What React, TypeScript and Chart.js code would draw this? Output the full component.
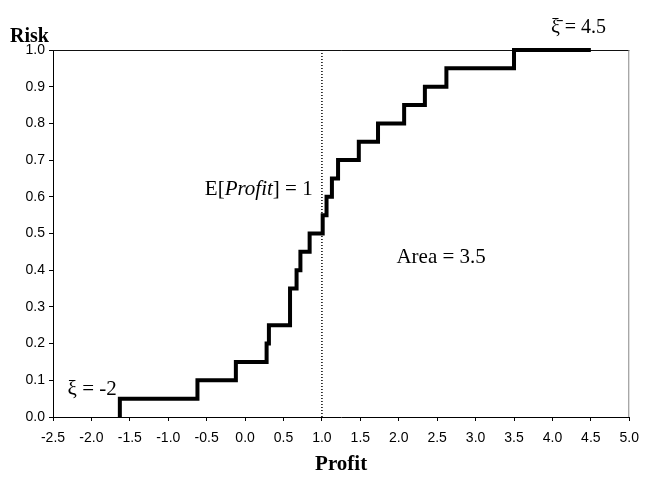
import React, { useEffect, useRef } from "react";
import { Chart, registerables } from "chart.js";

Chart.register(...registerables);

// Step function (cumulative risk curve): x = profit where a step occurs, y = risk after the step
const stepX = [-1.63, -1.63, -0.62, -0.12, 0.28, 0.31, 0.585, 0.67, 0.72, 0.84, 1.01, 1.06, 1.13, 1.21, 1.48, 1.73, 2.07, 2.34, 2.62, 3.5, 4.5];
const stepY = [0, 0.05, 0.1, 0.15, 0.2, 0.25, 0.35, 0.4, 0.45, 0.5, 0.55, 0.6, 0.65, 0.7, 0.75, 0.8, 0.85, 0.9, 0.95, 1.0, 1.0];

// Expected profit marker (vertical dotted line)
const expectedProfit = 1;
const markerY = [0, 1];

// Axis ranges / ticks
const xMin = -2.5, xMax = 5.0, xStep = 0.5;
const yMin = 0, yMax = 1.0, yStep = 0.1;

const SERIF = "'Liberation Serif', 'Times New Roman', serif";
const SANS = "'Liberation Sans', Arial, sans-serif";

const framePlugin = {
  id: "frame",
  beforeDatasetsDraw(chart: any) {
    const { ctx, chartArea: a } = chart;
    ctx.save();
    ctx.lineWidth = 1;
    ctx.strokeStyle = "#111";
    ctx.beginPath();
    ctx.moveTo(a.left, a.top + 0.5);
    ctx.lineTo(a.right, a.top + 0.5);
    ctx.stroke();
    ctx.strokeStyle = "#888";
    ctx.beginPath();
    ctx.moveTo(a.right - 0.5, a.top);
    ctx.lineTo(a.right - 0.5, a.bottom);
    ctx.stroke();
    ctx.restore();
  },
};

const textPlugin = {
  id: "texts",
  afterDraw(chart: any) {
    const { ctx, chartArea: a } = chart;
    const xs = chart.scales.x;
    const ys = chart.scales.y;
    ctx.save();
    ctx.fillStyle = "#000";
    ctx.textBaseline = "alphabetic";

    // Y axis title "Risk"
    ctx.font = `bold 20px ${SERIF}`;
    ctx.textAlign = "left";
    ctx.fillText("Risk", a.left - 43, a.top - 8);

    // E[Profit] = 1  (right-aligned)
    ctx.font = `21px ${SERIF}`;
    const p1 = "E[";
    const p3 = "] = 1";
    const w1 = ctx.measureText(p1).width;
    const w3 = ctx.measureText(p3).width;
    ctx.font = `italic 21px ${SERIF}`;
    const p2 = "Profit";
    const w2 = ctx.measureText(p2).width;
    const rx = xs.getPixelForValue(0.88);
    const by = ys.getPixelForValue(0.605);
    const sx = rx - (w1 + w2 + w3);
    ctx.font = `21px ${SERIF}`;
    ctx.fillText(p1, sx, by);
    ctx.font = `italic 21px ${SERIF}`;
    ctx.fillText(p2, sx + w1, by);
    ctx.font = `21px ${SERIF}`;
    ctx.fillText(p3, sx + w1 + w2, by);

    // Area = 3.5
    ctx.fillText("Area = 3.5", xs.getPixelForValue(1.97), ys.getPixelForValue(0.419));

    // ξ = -2
    ctx.font = `21px ${SERIF}`;
    ctx.fillText("\u03BE = -2", xs.getPixelForValue(-2.31), ys.getPixelForValue(0.06));

    // ξ̄ = 4.5
    ctx.font = `20px ${SERIF}`;
    const lx = xs.getPixelForValue(3.98);
    const ly = ys.getPixelForValue(1.045);
    ctx.fillText("\u03BE\u0304 = 4.5", lx, ly);
    ctx.restore();
  },
};

export default function App() {
  const canvasRef = useRef<HTMLCanvasElement | null>(null);

  useEffect(() => {
    if (!canvasRef.current) return;
    const stepData = stepX.map((x, i) => ({ x, y: stepY[i] }));
    const markerData = markerY.map((y) => ({ x: expectedProfit, y }));

    const chart = new Chart(canvasRef.current, {
      type: "line",
      data: {
        datasets: [
          {
            data: markerData,
            borderColor: "#000",
            borderWidth: 1.5,
            borderDash: [1, 2],
            pointRadius: 0,
            fill: false,
          },
          {
            data: stepData,
            stepped: "before",
            borderColor: "#000",
            borderWidth: 4,
            pointRadius: 0,
            fill: false,
            clip: false,
          } as any,
        ],
      },
      options: {
        animation: false,
        responsive: true,
        maintainAspectRatio: false,
        layout: { padding: { top: 50, right: 11, left: 0, bottom: 0 } },
        plugins: {
          legend: { display: false },
          tooltip: { enabled: false },
        },
        scales: {
          x: {
            type: "linear",
            min: xMin,
            max: xMax,
            ticks: {
              stepSize: xStep,
              color: "#000",
              font: { family: SANS, size: 14 },
              padding: 9,
              maxRotation: 0,
              autoSkip: false,
              callback: (v: any) => Number(v).toFixed(1),
            },
            grid: { display: true, drawOnChartArea: false, drawTicks: true, tickLength: 4, color: "#000" },
            border: { display: true, color: "#000", width: 1 },
            title: {
              display: true,
              text: "Profit",
              color: "#000",
              font: { family: SERIF, size: 21, weight: "bold" },
              padding: { top: 0, bottom: 0 },
            },
            afterFit: (s: any) => {
              s.height = 60;
            },
          },
          y: {
            type: "linear",
            min: yMin,
            max: yMax,
            ticks: {
              stepSize: yStep,
              color: "#000",
              font: { family: SANS, size: 14 },
              padding: 4,
              autoSkip: false,
              callback: (v: any) => Number(v).toFixed(1),
            },
            grid: { display: true, drawOnChartArea: false, drawTicks: true, tickLength: 4, color: "#000" },
            border: { display: true, color: "#000", width: 1 },
            afterFit: (s: any) => {
              s.width = 53;
            },
          },
        },
      } as any,
      plugins: [framePlugin, textPlugin],
    });
    return () => chart.destroy();
  }, []);

  return (
    <div style={{ position: "fixed", left: 0, top: 0, width: 648, height: 477, background: "#fff" }}>
      <canvas ref={canvasRef} />
    </div>
  );
}
